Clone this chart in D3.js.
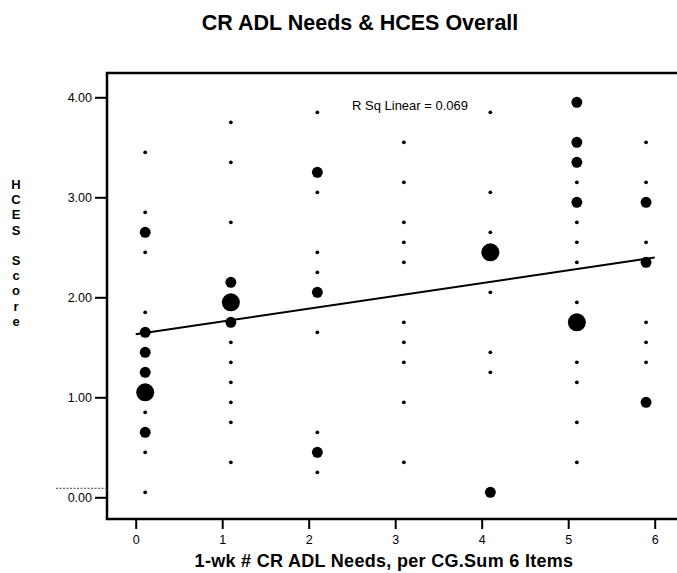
<!DOCTYPE html>
<html>
<head>
<meta charset="utf-8">
<script src="https://cdn.jsdelivr.net/npm/d3@7"></script>
<style>
  html, body { margin: 0; padding: 0; background: #fff; }
  svg { display: block; font-family: Arial, "Liberation Sans", sans-serif; }
</style>
</head>
<body>
<svg id="chart" width="677" height="573"></svg>
<script>
// Care-recipient ADL needs (column position) vs. HCES overall score.
// Each column lists the HCES scores observed, with the number of cases at that score.
const adlColumns = [0.11, 1.1, 2.1, 3.1, 4.1, 5.1, 5.9];

const hcesScores = [
  [3.45, 2.85, 2.65, 2.45, 1.85, 1.65, 1.45, 1.25, 1.05, 0.85, 0.65, 0.45, 0.05],
  [3.75, 3.35, 2.75, 2.15, 1.95, 1.75, 1.55, 1.35, 1.15, 0.95, 0.75, 0.35],
  [3.85, 3.25, 3.05, 2.45, 2.25, 2.05, 1.65, 0.65, 0.45, 0.25],
  [3.55, 3.15, 2.75, 2.55, 2.35, 1.75, 1.55, 1.35, 0.95, 0.35],
  [3.85, 3.05, 2.65, 2.45, 2.05, 1.45, 1.25, 0.05],
  [3.95, 3.55, 3.35, 3.15, 2.95, 2.75, 2.55, 2.35, 1.95, 1.75, 1.35, 1.15, 0.75, 0.35],
  [3.55, 3.15, 2.95, 2.55, 2.35, 1.75, 1.55, 1.35, 0.95]
];

const caseCounts = [
  [1, 1, 2, 1, 1, 2, 2, 2, 3, 1, 2, 1, 1],
  [1, 1, 1, 2, 3, 2, 1, 1, 1, 1, 1, 1],
  [1, 2, 1, 1, 1, 2, 1, 1, 2, 1],
  [1, 1, 1, 1, 1, 1, 1, 1, 1, 1],
  [1, 1, 1, 3, 1, 1, 1, 2],
  [2, 2, 2, 1, 2, 1, 1, 1, 1, 3, 1, 1, 1, 1],
  [1, 1, 2, 1, 2, 1, 1, 1, 2]
];

const xTickValues = [0, 1, 2, 3, 4, 5, 6];
const yTickValues = [0, 1, 2, 3, 4];

// Linear fit: HCES = intercept + slope * ADL needs
const fitIntercept = 1.63;
const fitSlope = 0.128;
const fitRange = [0, 6];
const rSquared = 0.069;

const points = [];
adlColumns.forEach((x, i) => {
  hcesScores[i].forEach((y, j) => points.push({ x, y, n: caseCounts[i][j] }));
});

const svg = d3.select("#chart");

// Plot frame in pixels
const frame = { left: 107, top: 73, bottom: 519, right: 682 };

const x = d3.scaleLinear().domain([0, 6]).range([135.7, 654.7]);
const y = d3.scaleLinear().domain([0, 4]).range([497.3, 97.3]);
const r = d3.scaleLinear().domain([1, 3]).range([1.9, 9]);

// Frame (left, top, bottom edges; right runs off the canvas)
svg.append("rect")
  .attr("x", frame.left).attr("y", frame.top)
  .attr("width", frame.right - frame.left)
  .attr("height", frame.bottom - frame.top)
  .attr("fill", "none").attr("stroke", "#000").attr("stroke-width", 2.5);

// Y axis
const yAxis = d3.axisLeft(y).tickValues(yTickValues)
  .tickFormat(d3.format(".2f")).tickSize(12).tickPadding(3);
const gy = svg.append("g").attr("transform", `translate(${frame.left},0)`).call(yAxis);
gy.select(".domain").remove();
gy.selectAll(".tick line").attr("stroke", "#000").attr("stroke-width", 2);
gy.selectAll(".tick text").attr("font-size", 12.5).attr("fill", "#000")
  .attr("font-family", "Arial, 'Liberation Sans', sans-serif");

// X axis
const xAxis = d3.axisBottom(x).tickValues(xTickValues)
  .tickFormat(d3.format("d")).tickSize(10).tickPadding(6);
const gx = svg.append("g").attr("transform", `translate(0,${frame.bottom})`).call(xAxis);
gx.select(".domain").remove();
gx.selectAll(".tick line").attr("stroke", "#000").attr("stroke-width", 2);
gx.selectAll(".tick text").attr("font-size", 12.5).attr("fill", "#000")
  .attr("font-family", "Arial, 'Liberation Sans', sans-serif");

// Short dotted guide beside the zero label
svg.append("line")
  .attr("x1", 56).attr("x2", frame.left)
  .attr("y1", y(0) - 9).attr("y2", y(0) - 9)
  .attr("stroke", "#444").attr("stroke-width", 1)
  .attr("stroke-dasharray", "2,1.5");

// Points, sized by number of cases
svg.append("g").selectAll("circle")
  .data(points)
  .join("circle")
  .attr("cx", d => x(d.x))
  .attr("cy", d => y(d.y))
  .attr("r", d => r(d.n))
  .attr("fill", "#000");

// Fit line
svg.append("line")
  .attr("x1", x(fitRange[0])).attr("y1", y(fitIntercept + fitSlope * fitRange[0]))
  .attr("x2", x(fitRange[1])).attr("y2", y(fitIntercept + fitSlope * fitRange[1]))
  .attr("stroke", "#000").attr("stroke-width", 2);

svg.append("text")
  .attr("x", 352).attr("y", 110)
  .attr("font-size", 13)
  .text(`R Sq Linear = ${d3.format(".3f")(rSquared)}`);

// Titles
svg.append("text")
  .attr("x", 360).attr("y", 30)
  .attr("text-anchor", "middle")
  .attr("font-size", 21.5).attr("font-weight", "bold")
  .text("CR ADL Needs & HCES Overall");

svg.append("text")
  .attr("x", 384).attr("y", 567)
  .attr("text-anchor", "middle")
  .attr("font-size", 18).attr("font-weight", "bold")
  .attr("letter-spacing", 0.3)
  .text("1-wk # CR ADL Needs, per CG.Sum 6 Items");

// Vertical stacked y-axis title
const yTitle = "HCES Score".split("");
svg.append("g").selectAll("text")
  .data(yTitle)
  .join("text")
  .attr("x", 16)
  .attr("y", (d, i) => 189 + i * 15.2)
  .attr("text-anchor", "middle")
  .attr("font-size", 13).attr("font-weight", "bold")
  .text(d => d);
</script>
</body>
</html>
